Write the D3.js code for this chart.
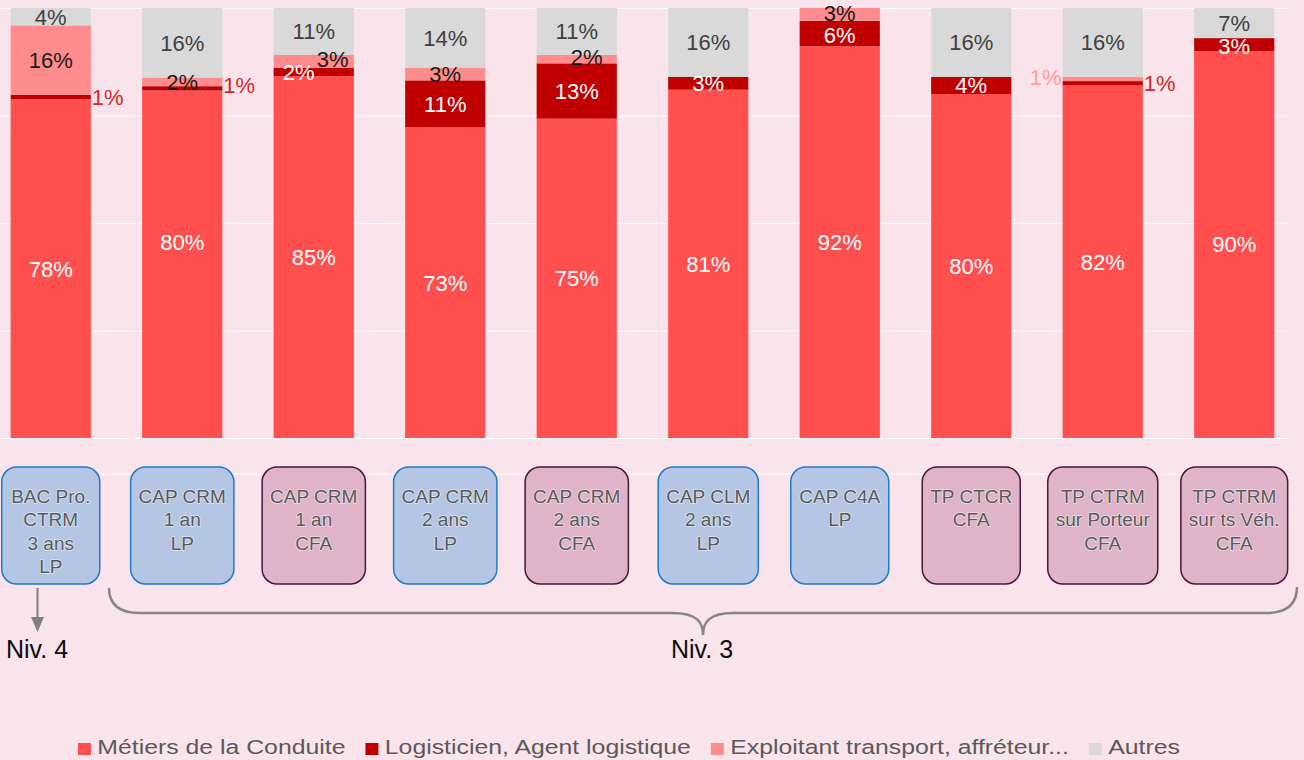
<!DOCTYPE html>
<html>
<head>
<meta charset="utf-8">
<script src="https://cdn.jsdelivr.net/npm/d3@7"></script>
<style>
body{margin:0;background:#f9e4ec;}
svg{display:block;font-family:"Liberation Sans",Arial,sans-serif;}
</style>
</head>
<body>
<svg width="1304" height="760"></svg>
<script>
// formations (lines of each box)
var categories = [
    ["BAC Pro.", "CTRM", "3 ans", "LP"],
    ["CAP CRM", "1 an", "LP"],
    ["CAP CRM", "1 an", "CFA"],
    ["CAP CRM", "2 ans", "LP"],
    ["CAP CRM", "2 ans", "CFA"],
    ["CAP CLM", "2 ans", "LP"],
    ["CAP C4A", "LP"],
    ["TP CTCR", "CFA"],
    ["TP CTRM", "sur Porteur", "CFA"],
    ["TP CTRM", "sur ts Véh.", "CFA"]
];
var conduite    = [78, 80, 85, 73, 75, 81, 92, 80, 82, 90];
var logisticien = [ 1,  1,  2, 11, 13,  3,  6,  4,  1,  3];
var exploitant  = [16,  2,  3,  3,  2,  0,  3,  0,  1,  0];
var autres      = [ 4, 16, 11, 14, 11, 16,  0, 16, 16,  7];
var seriesNames = ["Métiers de la Conduite", "Logisticien, Agent logistique", "Exploitant transport, affréteur...", "Autres"];
var yTicks = [0, 0.25, 0.5, 0.75, 1];
var levels = ["Niv. 4", "Niv. 3"];

function main(){
    var svg = d3.select("svg");
    var keys = ["conduite", "logisticien", "exploitant", "autres"];
    var colors = ["#ff4f4f", "#c00000", "#ff8c8c", "#d9d9d9"];
    var labelColors = ["#ffffff", "#ffffff", "#1a1a1a", "#404040"];

    svg.append("rect").attr("width", 1304).attr("height", 760).attr("fill", "#f9e4ec");

    var table = categories.map(function(c, i){
        return {i: i, conduite: conduite[i], logisticien: logisticien[i], exploitant: exploitant[i], autres: autres[i]};
    });
    var stacked = d3.stack().keys(keys).offset(d3.stackOffsetExpand)(table);

    var x = d3.scaleBand().domain(d3.range(categories.length)).range([-15, 1300])
        .paddingInner(0.39).paddingOuter(0.195);
    var y = d3.scaleLinear().domain([0, 1]).range([438, 8]);
    var bw = x.bandwidth();

    // gridlines
    var grid = svg.append("g")
        .call(d3.axisRight(y).tickValues(yTicks).tickSize(1288).tickFormat(""));
    grid.select(".domain").remove();
    grid.selectAll("line").attr("stroke", "#ffffff").attr("stroke-width", 1.2);

    // bars
    svg.selectAll(".serie")
        .data(stacked)
        .enter().append("g")
        .attr("fill", function(d, i){ return colors[i]; })
        .selectAll("rect")
        .data(function(d){ return d; })
        .enter().append("rect")
        .attr("x", function(d, j){ return x(j); })
        .attr("y", function(d){ return y(d[1]); })
        .attr("width", bw)
        .attr("height", function(d){ return y(d[0]) - y(d[1]); });

    // hand placed labels in the original
    var nudge = {
        "1-conduite": [0, -22], "1-logisticien": [0, -3],
        "2-logisticien": [-15, 0], "2-exploitant": [19, -2],
        "4-exploitant": [10, -2], "8-exploitant": [0, -2],
        "6-exploitant": [0, -1], "6-logisticien": [0, 2],
        "9-logisticien": [0, 2]
    };

    var labels = [];
    stacked.forEach(function(s, si){
        s.forEach(function(d, j){
            var v = d.data[s.key];
            if (!v) return;
            var cx = x(j) + bw / 2, cy = (y(d[0]) + y(d[1])) / 2;
            var lab = {text: v + "%", x: cx, y: cy, anchor: "middle", color: labelColors[si]};
            if (v <= 1 && s.key == "logisticien"){
                lab.x = x(j) + bw + 1; lab.anchor = "start"; lab.color = "#d02a2a";
            } else if (v <= 1 && s.key == "exploitant"){
                lab.x = x(j) - 1; lab.anchor = "end"; lab.color = "#ff9c9c";
            }
            var n = nudge[j + "-" + s.key];
            if (n){ lab.x += n[0]; lab.y += n[1]; }
            labels.push(lab);
        });
    });

    svg.append("g").selectAll("text")
        .data(labels)
        .enter().append("text")
        .attr("x", function(d){ return d.x; })
        .attr("y", function(d){ return d.y; })
        .attr("dy", "0.36em")
        .attr("text-anchor", function(d){ return d.anchor; })
        .attr("fill", function(d){ return d.color; })
        .attr("font-size", "22px")
        .text(function(d){ return d.text; });

    // faint line behind the boxes
    svg.append("line").attr("x1", 100).attr("x2", 1290).attr("y1", 474).attr("y2", 474)
        .attr("stroke", "#ffffff").attr("stroke-opacity", 0.8);

    // formation boxes
    var boxes = svg.append("g").selectAll("g")
        .data(categories)
        .enter().append("g");

    boxes.each(function(lines, j){
        var g = d3.select(this);
        var lp = lines[lines.length - 1] == "LP";
        var rect = g.append("rect");
        var t = g.append("text")
            .attr("text-anchor", "middle")
            .attr("font-size", "19px")
            .attr("fill", "#595959")
            .attr("stroke", "#ffffff").attr("stroke-opacity", 0.55).attr("stroke-width", 1.6)
            .attr("paint-order", "stroke");
        var cx = x(j) + bw / 2;
        var maxW = 0;
        lines.forEach(function(l, k){
            var ts = t.append("tspan").attr("x", cx).attr("y", 503 + k * 23.3).text(l);
            maxW = Math.max(maxW, ts.node().getComputedTextLength());
        });
        var w = Math.max(98, maxW + 16);
        rect.attr("x", cx - w / 2).attr("y", 467).attr("width", w).attr("height", 117)
            .attr("rx", 15).attr("ry", 15)
            .attr("fill", lp ? "#b4c6e4" : "#dfb3c8")
            .attr("stroke", lp ? "#1f7ac8" : "#4a1541")
            .attr("stroke-width", 1.5);
    });

    // arrow to Niv. 4 and brace for Niv. 3
    svg.append("line").attr("x1", 37.5).attr("x2", 37.5).attr("y1", 588).attr("y2", 618)
        .attr("stroke", "#7f7f7f").attr("stroke-width", 2);
    svg.append("path").attr("d", "M31,617 L44,617 L37.5,632 Z").attr("fill", "#7f7f7f");

    svg.append("path")
        .attr("d", "M109,588 Q109,613 140,613 L672,613 C697,613 703,622 703,635 C703,622 709,613 734,613 L1266,613 Q1297,613 1297,587")
        .attr("fill", "none").attr("stroke", "#858585").attr("stroke-width", 2.5);

    svg.selectAll(".niv")
        .data(levels)
        .enter().append("text")
        .attr("x", function(d, i){ return i == 0 ? 6 : 671; })
        .attr("y", 658)
        .attr("font-size", "25px")
        .attr("fill", "#0d0d0d")
        .text(function(d){ return d; });

    // legend (stretched horizontally like the original)
    var leg = svg.append("g").attr("transform", "translate(78,0) scale(1.21,1)");
    var lx = 0;
    seriesNames.forEach(function(name, i){
        leg.append("rect").attr("x", lx).attr("y", 743).attr("width", 10.7).attr("height", 12)
            .attr("fill", colors[i]);
        var t = leg.append("text").attr("x", lx + 16).attr("y", 754)
            .attr("font-size", "20.5px").attr("fill", "#595959").text(name);
        lx += 16 + t.node().getComputedTextLength() + 16.5;
    });
}
main();
</script>
</body>
</html>
